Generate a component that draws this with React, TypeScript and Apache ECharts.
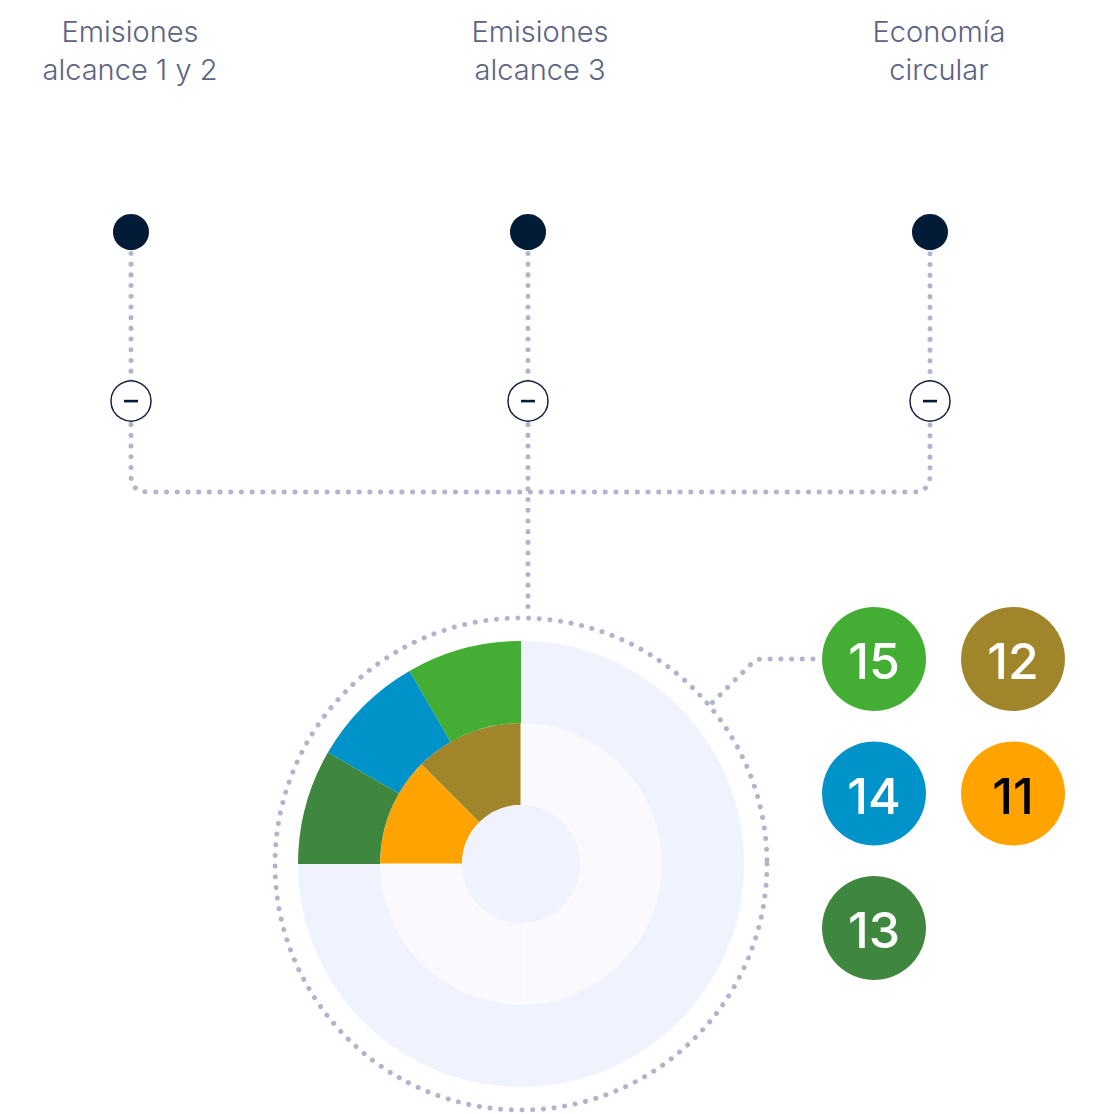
import React, { useEffect, useRef } from 'react';
import * as echarts from 'echarts';

// ---- data ----
const titles = ['Emisiones\nalcance 1 y 2', 'Emisiones\nalcance 3', 'Economía\ncircular'];
const outerGoals = ['15', '14', '13'];
const innerGoals = ['12', '11'];
const outerSlotCount = 12;
const innerSlotCount = 8;
const slotValue = 1;
const goalColors: Record<string, string> = {
  '15': '#44ad33',
  '14': '#0093c9',
  '13': '#3f873f',
  '12': '#a1852b',
  '11': '#ffa300',
};
const goalTextColors: Record<string, string> = {
  '15': '#ffffff',
  '14': '#ffffff',
  '13': '#ffffff',
  '12': '#ffffff',
  '11': '#000000',
};
const legendRows = [['15', '12'], ['14', '11'], ['13']];

// ---- layout / styles ----
const CX = 521;
const CY = 864;
const R_INNER = 59;
const R_MID = 141;
const R_OUTER = 223;
const R_DOTS = 246;
const titleX = [130, 540, 939];
const nodeX = [131, 528, 930];
const DOT_COLOR = '#b2b4cb';
const DARK = '#021b36';
const dotted = {
  fill: 'none',
  stroke: DOT_COLOR,
  lineWidth: 5,
  lineDash: [0.1, 10.6],
  lineCap: 'round',
};

const connectorPath =
  'M131 232 L131 475 Q131 492 148 492 L913 492 Q930 492 930 475 L930 232 ' +
  'M528 232 L528 611 ' +
  'M813 659 L762 659 Q756 659 751 664 L711 704';

echarts.graphic.registerShape('connectors', echarts.graphic.extendPath(connectorPath, {}));

export default function App() {
  const ref = useRef<HTMLDivElement>(null);
  useEffect(() => {
    document.body.style.margin = '0';
    const chart = echarts.init(ref.current!, null, { renderer: 'svg' });

    const outerData = [
      ...outerGoals.map((g) => ({ name: g, value: slotValue, itemStyle: { color: goalColors[g] } })),
      ...Array.from({ length: outerSlotCount - outerGoals.length }, (_, i) => ({
        name: 'o' + i,
        value: slotValue,
        itemStyle: { color: '#f0f3fe' },
      })),
    ];
    const innerData = [
      ...innerGoals.map((g) => ({ name: g, value: slotValue, itemStyle: { color: goalColors[g] } })),
      ...Array.from({ length: innerSlotCount - innerGoals.length }, (_, i) => ({
        name: 'i' + i,
        value: slotValue,
        itemStyle: { color: '#f9f9fe', borderColor: '#f6f7fe', borderWidth: 1 },
      })),
    ];

    const graphics: any[] = [];
    graphics.push({
      type: 'circle',
      shape: { cx: CX, cy: CY, r: R_DOTS },
      style: dotted,
      silent: true,
      z: 1,
    });
    graphics.push({
      type: 'connectors',
      x: 0,
      y: 0,
      style: dotted,
      silent: true,
      z: 1,
    });
    graphics.push({
      type: 'circle',
      shape: { cx: CX, cy: CY, r: R_INNER },
      style: { fill: '#f0f3fe' },
      silent: true,
      z: 5,
    });
    titles.forEach((t, i) => {
      graphics.push({
        type: 'text',
        x: titleX[i],
        y: 50,
        style: {
          text: t,
          fill: '#5b6481',
          font: '300 29px Inter',
          lineHeight: 38,
          align: 'center',
          verticalAlign: 'middle',
        },
        z: 5,
      });
    });
    nodeX.forEach((x) => {
      graphics.push({
        type: 'circle',
        shape: { cx: x, cy: 232, r: 18 },
        style: { fill: DARK },
        z: 5,
      });
      graphics.push({
        type: 'circle',
        shape: { cx: x, cy: 401, r: 20 },
        style: { fill: '#ffffff', stroke: '#13233f', lineWidth: 1.5 },
        z: 5,
      });
      graphics.push({
        type: 'rect',
        shape: { x: x - 7, y: 399.8, width: 14, height: 2.6 },
        style: { fill: DARK },
        z: 6,
      });
    });
    legendRows.forEach((row, ri) => {
      row.forEach((g, ci) => {
        const x = 874 + ci * 139;
        const y = 659 + ri * 134.5;
        graphics.push({
          type: 'circle',
          shape: { cx: x, cy: y, r: 52 },
          style: { fill: goalColors[g] },
          z: 5,
        });
        graphics.push({
          type: 'text',
          x: x,
          y: y + 2,
          style: {
            text: g,
            fill: goalTextColors[g],
            font: '500 50px Inter',
            align: 'center',
            verticalAlign: 'middle',
          },
          z: 6,
        });
      });
    });

    chart.setOption({
      animation: false,
      backgroundColor: '#ffffff',
      series: [
        {
          type: 'pie',
          silent: true,
          center: [CX, CY],
          radius: [R_INNER, R_MID],
          startAngle: 90,
          clockwise: false,
          label: { show: false },
          labelLine: { show: false },
          emphasis: { disabled: true },
          data: innerData,
          z: 2,
        },
        {
          type: 'pie',
          silent: true,
          center: [CX, CY],
          radius: [R_MID, R_OUTER],
          startAngle: 90,
          clockwise: false,
          label: { show: false },
          labelLine: { show: false },
          emphasis: { disabled: true },
          itemStyle: { borderWidth: 0 },
          data: outerData,
          z: 2,
        },
      ],
      graphic: { elements: graphics },
    });
    return () => chart.dispose();
  }, []);
  return <div ref={ref} style={{ width: 1097, height: 1114 }} />;
}
